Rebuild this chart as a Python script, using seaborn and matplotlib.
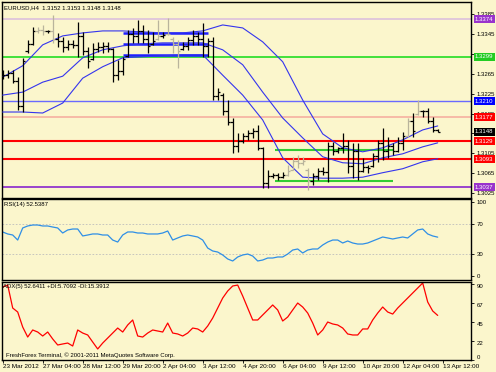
import matplotlib
matplotlib.use("Agg")
import matplotlib.pyplot as plt
import matplotlib.transforms as mtransforms
import numpy as np
import pandas as pd
import seaborn as sns

# EURUSD H4 bars
bar_open = [1.3258, 1.3262, 1.3266, 1.3250, 1.3200, 1.3310, 1.3325, 1.3350, 1.3352, 1.3350,
            1.3350, 1.3335, 1.3330, 1.3318, 1.3325, 1.3322, 1.3340, 1.3310, 1.3295, 1.3315,
            1.3318, 1.3320, 1.3315, 1.3262, 1.3270, 1.3300, 1.3345, 1.3340, 1.3350, 1.3335,
            1.3325, 1.3335, 1.3340, 1.3345, 1.3335, 1.3325, 1.3315, 1.3320, 1.3332, 1.3340,
            1.3335, 1.3320, 1.3330, 1.3220, 1.3222, 1.3190, 1.3168, 1.3120, 1.3130, 1.3140,
            1.3145, 1.3150, 1.3115, 1.3045, 1.3060, 1.3062, 1.3058, 1.3062, 1.3072, 1.3090,
            1.3085, 1.3072, 1.3050, 1.3060, 1.3070, 1.3068, 1.3120, 1.3110, 1.3115, 1.3120,
            1.3080, 1.3110, 1.3070, 1.3078, 1.3080, 1.3100, 1.3125, 1.3110, 1.3120, 1.3110,
            1.3125, 1.3140, 1.3170, 1.3185, 1.3190, 1.3190, 1.3170, 1.3152]
bar_high = [1.3273, 1.3273, 1.3273, 1.3258, 1.3297, 1.3333, 1.3359, 1.3359, 1.3363, 1.3353,
            1.3383, 1.3347, 1.3339, 1.3333, 1.3333, 1.3369, 1.3349, 1.3319, 1.3327, 1.3329,
            1.3329, 1.3329, 1.3317, 1.3293, 1.3299, 1.3353, 1.3357, 1.3373, 1.3363, 1.3353,
            1.3349, 1.3373, 1.3349, 1.3377, 1.3339, 1.3333, 1.3329, 1.3339, 1.3353, 1.3349,
            1.3367, 1.3337, 1.3339, 1.3236, 1.3226, 1.3212, 1.3176, 1.3146, 1.3146, 1.3152,
            1.3156, 1.3162, 1.3118, 1.3071, 1.3065, 1.3065, 1.3067, 1.3082, 1.3098, 1.3102,
            1.3098, 1.3075, 1.3065, 1.3075, 1.3077, 1.3128, 1.3128, 1.3118, 1.3146, 1.3132,
            1.3126, 1.3126, 1.3095, 1.3081, 1.3106, 1.3132, 1.3156, 1.3138, 1.3126, 1.3138,
            1.3148, 1.3176, 1.3186, 1.3212, 1.3192, 1.3196, 1.3178, 1.3153]
bar_low = [1.3254, 1.3256, 1.3246, 1.3192, 1.3188, 1.3307, 1.3323, 1.3347, 1.3343, 1.3347,
           1.3327, 1.3319, 1.3309, 1.3313, 1.3317, 1.3299, 1.3303, 1.3276, 1.3293, 1.3309,
           1.3307, 1.3309, 1.3248, 1.3252, 1.3262, 1.3299, 1.3327, 1.3327, 1.3327, 1.3307,
           1.3323, 1.3333, 1.3337, 1.3343, 1.3307, 1.3276, 1.3313, 1.3313, 1.3323, 1.3323,
           1.3299, 1.3299, 1.3212, 1.3212, 1.3182, 1.3162, 1.3106, 1.3108, 1.3126, 1.3132,
           1.3136, 1.3112, 1.3035, 1.3035, 1.3055, 1.3051, 1.3055, 1.3059, 1.3071, 1.3075,
           1.3082, 1.3031, 1.3041, 1.3051, 1.3061, 1.3047, 1.3102, 1.3106, 1.3106, 1.3065,
           1.3055, 1.3051, 1.3067, 1.3065, 1.3078, 1.3088, 1.3092, 1.3096, 1.3102, 1.3108,
           1.3112, 1.3138, 1.3138, 1.3182, 1.3178, 1.3166, 1.3148, 1.3148]
bar_close = [1.3262, 1.3266, 1.3250, 1.3200, 1.3290, 1.3325, 1.3350, 1.3352, 1.3350, 1.3350,
             1.3335, 1.3330, 1.3318, 1.3325, 1.3322, 1.3340, 1.3310, 1.3290, 1.3315, 1.3318,
             1.3320, 1.3315, 1.3262, 1.3270, 1.3295, 1.3345, 1.3340, 1.3350, 1.3335, 1.3320,
             1.3330, 1.3340, 1.3342, 1.3345, 1.3325, 1.3310, 1.3320, 1.3332, 1.3340, 1.3335,
             1.3320, 1.3330, 1.3220, 1.3228, 1.3190, 1.3168, 1.3120, 1.3130, 1.3140, 1.3145,
             1.3150, 1.3115, 1.3045, 1.3060, 1.3062, 1.3058, 1.3062, 1.3070, 1.3090, 1.3085,
             1.3090, 1.3050, 1.3060, 1.3070, 1.3068, 1.3120, 1.3110, 1.3115, 1.3120, 1.3080,
             1.3110, 1.3070, 1.3078, 1.3075, 1.3100, 1.3125, 1.3110, 1.3120, 1.3110, 1.3125,
             1.3140, 1.3170, 1.3150, 1.3190, 1.3190, 1.3170, 1.3152, 1.3148]
faded_bars = [7, 8, 10, 31, 33, 34, 35, 57, 58, 59, 60, 61, 81, 83]

# bollinger bands, read every 4th bar
band_bars = [0, 4, 8, 12, 16, 20, 24, 28, 32, 36, 40, 44, 48, 52, 56, 60, 64, 68, 72, 76, 80, 84, 87]
band_upper = [1.3258, 1.3281, 1.3323, 1.3341, 1.3347, 1.3351, 1.3351, 1.3349, 1.3347, 1.3347,
              1.3351, 1.3363, 1.3357, 1.3329, 1.3289, 1.3212, 1.3144, 1.3116, 1.3108, 1.3116,
              1.3132, 1.3152, 1.3160]
band_middle = [1.3222, 1.3228, 1.3248, 1.3260, 1.3297, 1.3313, 1.3321, 1.3325, 1.3327, 1.3327,
               1.3327, 1.3313, 1.3283, 1.3228, 1.3176, 1.3136, 1.3098, 1.3086, 1.3084, 1.3096,
               1.3104, 1.3118, 1.3126]
band_lower = [1.3188, 1.3188, 1.3186, 1.3206, 1.3256, 1.3279, 1.3297, 1.3299, 1.3301, 1.3303,
              1.3303, 1.3262, 1.3222, 1.3172, 1.3096, 1.3057, 1.3055, 1.3055, 1.3057, 1.3066,
              1.3074, 1.3088, 1.3094]

# thick channel segments and green range lines
channel_levels = [1.3347, 1.3325, 1.3303]
channel_span = (24, 41)
range_levels = [1.3112, 1.3050]
range_span = (54.5, 78)

rsi = [59.5, 56.8, 55.4, 48.6, 64.9, 67.6, 68.9, 68.9, 67.6, 67.6,
       66.2, 64.9, 58.1, 62.2, 63.5, 63.5, 54.1, 55.4, 56.8, 56.8,
       55.4, 55.4, 48.6, 45.9, 55.4, 59.5, 59.5, 58.1, 58.1, 56.8,
       56.8, 56.8, 58.1, 60.8, 48.6, 51.4, 54.1, 55.4, 54.1, 52.7,
       48.6, 37.8, 33.8, 32.4, 28.4, 23.0, 20.3, 25.7, 28.4, 29.7,
       27.0, 20.3, 21.6, 24.3, 24.3, 25.7, 25.7, 29.7, 35.1, 36.5,
       31.1, 35.1, 36.5, 36.5, 41.9, 45.9, 48.6, 48.6, 44.6, 47.3,
       44.6, 43.2, 43.2, 44.6, 47.3, 50.0, 52.7, 51.4, 50.0, 51.4,
       52.7, 51.4, 56.8, 62.2, 63.5, 56.8, 54.1, 52.5]
adx = [86.1, 88.4, 61.3, 56.6, 38.9, 27.1, 35.4, 33.0, 28.3, 33.0,
       24.8, 17.7, 18.9, 20.0, 16.5, 35.4, 31.8, 29.5, 21.2, 13.0,
       20.0, 25.9, 31.8, 37.7, 33.0, 41.3, 47.2, 28.3, 27.1, 31.8,
       35.4, 34.2, 33.0, 43.6, 31.8, 30.7, 28.3, 31.8, 37.7, 36.6,
       33.0, 40.1, 49.5, 61.3, 73.1, 81.4, 87.3, 88.4, 75.5, 61.3,
       47.2, 47.2, 53.1, 59.0, 64.9, 59.0, 46.0, 50.7, 59.0, 67.2,
       62.5, 55.4, 43.6, 29.5, 35.4, 44.8, 42.5, 41.3, 37.7, 30.7,
       29.5, 29.5, 36.6, 36.6, 47.2, 55.4, 62.5, 56.6, 54.2, 61.3,
       67.2, 73.1, 79.0, 84.9, 90.8, 68.4, 57.8, 52.6]

levels = [1.3374, 1.3299, 1.3210, 1.3177, 1.3129, 1.3093, 1.3037]
level_line_colors = ['#dcc0dc', '#22dd22', '#6a6aff', '#f5b0a0', '#ff0000', '#ff0000', '#9944cc']
level_box_colors = ['#9933cc', '#22cc22', '#0000ff', '#ff0000', '#ff0000', '#ff0000', '#9933cc']
level_widths = [1.2, 1.2, 1.0, 1.2, 1.5, 1.5, 1.4]
last_price = 1.3148

price_ticks = [1.3025, 1.3065, 1.3105, 1.3145, 1.3185, 1.3225, 1.3265, 1.3305, 1.3345, 1.3385]
hidden_ticks = [1.3145, 1.3305]  # covered by the level boxes in the terminal
date_bars = [0, 8, 16, 24, 32, 40, 48, 56, 64, 72, 80, 88]
date_labels = ["23 Mar 2012", "27 Mar 04:00", "28 Mar 12:00", "29 Mar 20:00", "2 Apr 04:00",
               "3 Apr 12:00", "4 Apr 20:00", "6 Apr 04:00", "9 Apr 12:00", "10 Apr 20:00",
               "12 Apr 04:00", "13 Apr 12:00"]

bg = '#fbf6cc'
sns.set_theme(style='white', rc={'axes.facecolor': bg, 'figure.facecolor': bg})
plt.rcParams['font.family'] = ['Liberation Sans', 'DejaVu Sans']
fs = 4.3
fs_date = 4.6

W, H = 496, 372
fig = plt.figure(figsize=(W / 100, H / 100), dpi=100)


def px_axes(x0, y0, x1, y1):
    return fig.add_axes([x0 / W, 1 - y1 / H, (x1 - x0) / W, (y1 - y0) / H])


ax = px_axes(2, 2, 471, 198)
ax_rsi = px_axes(2, 199, 471, 280)
ax_adx = px_axes(2, 282, 471, 360)

xlim = (-0.14, 93.66)
for a in (ax, ax_rsi, ax_adx):
    a.set_xlim(*xlim)
    a.set_facecolor(bg)
    for s in a.spines.values():
        s.set_color('black')
        s.set_linewidth(1.0)
    a.yaxis.tick_right()
    a.tick_params(axis='y', which='both', right=True, left=False, length=2, width=0.6,
                  pad=2, labelsize=fs, colors='black', direction='out')
    a.grid(False)

# --- main price panel
ax.set_ylim(1.301516, 1.340912)
for lv, lc, lw in zip(levels, level_line_colors, level_widths):
    ax.axhline(lv, color=lc, lw=lw, zorder=1)

for lv in channel_levels:
    ax.hlines(lv, channel_span[0], channel_span[1], color='#1f1fff', lw=1.8, zorder=2)
for lv in range_levels:
    ax.hlines(lv, range_span[0], range_span[1], color='#33cc33', lw=1.5, zorder=2)

bands = pd.DataFrame({'bar': band_bars, 'upper': band_upper,
                      'middle': band_middle, 'lower': band_lower})
for col in ['upper', 'middle', 'lower']:
    sns.lineplot(data=bands, x='bar', y=col, ax=ax, color='#3434ee', lw=0.8,
                 estimator=None, zorder=3)

for i in range(len(bar_close)):
    c = '#b9b49c' if i in faded_bars else 'black'
    ax.vlines(i, bar_low[i], bar_high[i], color=c, lw=0.9, zorder=4)
    ax.hlines(bar_open[i], i - 0.45, i, color=c, lw=0.9, zorder=4)
    ax.hlines(bar_close[i], i, i + 0.45, color=c, lw=0.9, zorder=4)

ax.set_yticks(price_ticks)
ax.set_yticklabels(['' if t in hidden_ticks else f'{t:.4f}' for t in price_ticks])
ax.set_xticks([])
ax.set_xlabel('')
ax.set_ylabel('')

tr = mtransforms.blended_transform_factory(ax.transAxes, ax.transData)
box_x = 1 + 4.0 / 469
for lv, bc in zip(levels, level_box_colors):
    ax.text(box_x, lv, f'{lv:.4f}', transform=tr, fontsize=fs, color='white', va='center',
            ha='left', clip_on=False, zorder=10,
            bbox=dict(boxstyle='square,pad=0.25', fc=bc, ec='none'))
ax.text(box_x, last_price, f'{last_price:.4f}', transform=tr, fontsize=fs, color='white',
        va='center', ha='left', clip_on=False, zorder=10,
        bbox=dict(boxstyle='square,pad=0.25', fc='black', ec='none'))

ax.text(0.005, 0.985, 'EURUSD,H4  1.3152 1.3153 1.3148 1.3148', transform=ax.transAxes,
        fontsize=fs, va='top', ha='left', color='black')

# --- RSI panel
ax_rsi.set_ylim(-5.4, 104.05)
ax_rsi.axhline(70, color='#bdbdbd', lw=0.6, ls=(0, (2, 2)))
ax_rsi.axhline(30, color='#bdbdbd', lw=0.6, ls=(0, (2, 2)))
sns.lineplot(x=list(range(len(rsi))), y=rsi, ax=ax_rsi, color='#2f8fe6', lw=0.9)
ax_rsi.set_yticks([0, 30, 70, 100])
ax_rsi.set_yticklabels(['0', '30', '70', '100'])
ax_rsi.set_xticks([])
ax_rsi.text(0.005, 0.96, 'RSI(14) 52.5387', transform=ax_rsi.transAxes, fontsize=fs,
            va='top', ha='left', color='black')

# --- ADX panel
ax_adx.set_ylim(0, 92)
sns.lineplot(x=list(range(len(adx))), y=adx, ax=ax_adx, color='#ff0000', lw=0.9)
ax_adx.set_yticks([0, 22.5, 45, 67.5, 90])
ax_adx.set_yticklabels(['0', '22', '45', '67', '90'])
for lab in ax_adx.get_yticklabels()[1:]:
    lab.set_va('top')
ax_adx.get_yticklabels()[0].set_va('bottom')
ax_adx.set_xticks(date_bars)
ax_adx.set_xticklabels(date_labels, ha='left')
ax_adx.tick_params(axis='x', bottom=True, length=2, width=0.6, pad=1, labelsize=fs_date,
                   colors='black', direction='out')
ax_adx.text(0.002, 0.97, 'ADX(5) 52.6411 +DI:5.7092 -DI:15.3912', transform=ax_adx.transAxes,
            fontsize=fs, va='top', ha='left', color='black')
ax_adx.text(0.008, 0.03, 'FreshForex Terminal, \u00a9 2001-2011 MetaQuotes Software Corp.',
            transform=ax_adx.transAxes, fontsize=fs, va='bottom', ha='left', color='black')

for a in (ax, ax_rsi, ax_adx):
    a.set_ylabel('')

fig.savefig('out.png', dpi=100, facecolor=bg)
